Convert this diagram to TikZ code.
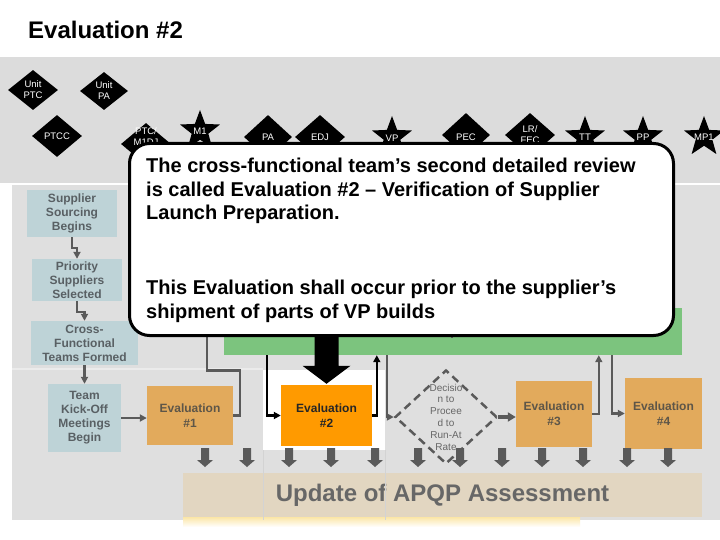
\documentclass[tikz,border=0pt]{standalone}
\usepackage{fontspec}
\setmainfont{Liberation Sans}
\usetikzlibrary{shapes.geometric,arrows.meta,calc}
\definecolor{bandgray}{HTML}{DCDCDC}
\definecolor{bodygray}{HTML}{DFDFDF}
\definecolor{bluebox}{HTML}{BED3D7}
\definecolor{tanbox}{HTML}{E2AA5C}
\definecolor{orangebox}{HTML}{FF9A00}
\definecolor{greenbar}{HTML}{7CC47E}
\definecolor{apqpfill}{HTML}{E2D6C1}
\definecolor{apqptext}{HTML}{676767}
\definecolor{conn}{HTML}{5A5A5A}
\definecolor{boxtext}{HTML}{596064}
\definecolor{evaltext}{HTML}{5E5648}
\definecolor{glow}{HTML}{FBE6A6}
\definecolor{laneline}{HTML}{D3D3D3}
\begin{document}
\begin{tikzpicture}[x=1pt,y=-1pt,
  bluestep/.style={rectangle, fill=bluebox, inner sep=0, align=center, text=boxtext, font=\bfseries\fontsize{12}{14}\selectfont},
  evalbox/.style={rectangle, fill=tanbox, inner sep=0, align=center, text=evaltext, font=\bfseries\fontsize{12}{15}\selectfont},
  milediamond/.style={diamond, fill=black, inner sep=0},
  milestar/.style={star, star points=5, star point ratio=2.4, fill=black, inner sep=0, minimum size=42pt},
  milelabel/.style={text=white, align=center, inner sep=0, font=\fontsize{9.5}{11}\selectfont},
  flow/.style={draw=conn, line width=2.5pt},
  flowarrow/.style={flow, -{Triangle[length=7pt,width=7pt]}},
  blackarrow/.style={draw=black, line width=2.5pt, -{Triangle[length=7pt,width=7pt]}},
  calltext/.style={anchor=north west, inner sep=0, align=left, font=\bfseries\fontsize{20}{23.5}\selectfont}
]
\useasboundingbox (0,0) rectangle (720,540);
\fill[white] (0,0) rectangle (720,540);
\fill[bandgray] (0,57) rectangle (720,183);
\fill[bodygray] (12,185) rectangle (720,520);
% lanes
\draw[white!92!black, line width=2pt] (12,369) -- (263,369);
\fill[white] (263,370) rectangle (385,450);

% title
\node[anchor=west, inner sep=0, font=\bfseries\fontsize{24}{28}\selectfont] (title) at (28,30) {Evaluation \#2};

% APQP bar
\shade[top color=glow, bottom color=white] (183,517) rectangle (580,527);
\node[rectangle, fill=apqpfill, minimum width=519pt, minimum height=44pt, inner sep=0,
      text=apqptext, font=\bfseries\fontsize{24}{28}\selectfont] (apqp) at (442.5,495) {Update of APQP Assessment};
\draw[laneline, line width=1pt] (263,450) -- (263,520);
\draw[laneline, line width=1pt] (385,450) -- (385,520);

% green bar
\node[rectangle, fill=greenbar, minimum width=458pt, minimum height=47pt, inner sep=0] (green) at (453,331.5) {};
\draw[conn, line width=1.5pt] (452,325) -- (452,338);

% left column
\node[bluestep, minimum width=90pt, minimum height=47pt] (sup) at (72,213.5) {Supplier\\Sourcing\\Begins};
\node[bluestep, minimum width=90pt, minimum height=42pt] (pri) at (77,280) {Priority\\Suppliers\\Selected};
\node[bluestep, minimum width=107pt, minimum height=44pt] (cft) at (84.5,343) {Cross-\\Functional\\Teams Formed};
\node[bluestep, minimum width=73pt, minimum height=68pt] (tko) at (84.5,418) {Team\\Kick-Off\\Meetings\\Begin};

% evaluations
\node[evalbox, minimum width=86pt, minimum height=59pt] (ev1) at (190,415.5) {Evaluation\\\#1};
\node[evalbox, fill=orangebox, text=black!85, minimum width=91pt, minimum height=61pt] (ev2) at (326.5,415.5) {Evaluation\\\#2};
\node[evalbox, minimum width=76pt, minimum height=66pt] (ev3) at (554,414) {Evaluation\\\#3};
\node[evalbox, minimum width=77pt, minimum height=71pt] (ev4) at (663.5,413.5) {Evaluation\\\#4};
\node[diamond, draw=conn, line width=2.5pt, dash pattern=on 8pt off 5pt, inner sep=0,
      minimum width=102pt, minimum height=94pt] (dec) at (446,417) {};
\node[inner sep=0, align=center, text=black!60, font=\fontsize{10}{11.8}\selectfont] (dectext) at (dec) {Decisio\\n to\\Procee\\d to\\Run-At\\Rate};

% connectors
\draw[flowarrow] (sup.south) -- ++(0,11) -| (pri.north);
\draw[flowarrow] (pri.south) -- ++(0,11) -| (cft.north);
\draw[flowarrow] (cft.south) -- (tko.north);
\draw[flowarrow] (tko.east) -- (tko.east -| ev1.west);
\draw[flow] (ev1.east) -- ++(7,0) -- ++(0,-45) -- ++(-33,0) |- (green.west);
\draw[blackarrow] ($(green.south west)+(43,0)$) |- (ev2.west);
\draw[blackarrow] (ev2.east) -| ($(green.south west)+(153,0)$);
\draw[flowarrow] ($(green.south west)+(163,0)$) |- (dec.west);
\draw[flow, line width=4pt, -{Triangle[length=8pt,width=9pt]}] (dec.east) -- (dec.east -| ev3.west);
\draw[flowarrow] (ev3.east) -| ($(green.south west)+(375,0)$);
\draw[flowarrow] ($(green.south west)+(388,0)$) |- (ev4.west);

% down arrows to APQP bar
\foreach \x in {205,247,289,331,375,418,460,502,542,583,627,668} {
  \fill[conn] (\x-4,448) -- (\x+4,448) -- (\x+4,460) -- (\x+8,460) -- (\x,467) -- (\x-8,460) -- (\x-4,460) -- cycle;
}

% milestones
\node[milediamond, minimum width=50pt, minimum height=40pt] (uptc) at (33,90) {};
\node[milelabel] at (uptc) {Unit\\PTC};
\node[milediamond, minimum width=48pt, minimum height=38pt] (upa) at (104,91) {};
\node[milelabel] at (upa) {Unit\\PA};
\node[milediamond, minimum width=50pt, minimum height=42pt] (ptcc) at (57,136) {};
\node[milelabel] at (ptcc) {PTCC};
\node[milediamond, minimum width=50pt, minimum height=42pt] (ptcm) at (146,144) {};
\node[milelabel, yshift=7pt] at (ptcm) {PTC/\\M1DJ};
\node[milestar] (m1) at (200,131) {};
\node[milelabel] at (m1) {M1};
\node[milediamond, minimum width=48pt, minimum height=44pt] (pa) at (268,137) {};
\node[milelabel] at (pa) {PA};
\node[milediamond, minimum width=50pt, minimum height=44pt] (edj) at (320,137) {};
\node[milelabel] at (edj) {EDJ};
\node[milestar] (vp) at (392,137) {};
\node[milelabel, yshift=-1pt] at (vp) {VP};
\node[milediamond, minimum width=48pt, minimum height=44pt] (pec) at (466,135) {};
\node[milelabel, yshift=-2pt] at (pec) {PEC};
\node[milediamond, minimum width=50pt, minimum height=44pt] (lr) at (530,135) {};
\node[milelabel] at (lr) {LR/\\FEC};
\node[milestar] (tt) at (585,137) {};
\node[milelabel] at (tt) {TT};
\node[milestar] (pp) at (643,137) {};
\node[milelabel] at (pp) {PP};
\node[milestar] (mp1) at (704,137) {};
\node[milelabel] at (mp1) {MP1};

% big black arrow from the callout to Evaluation #2
\fill[black, shift={(ev2.north)}] (0,-1) -- (24,-19) -- (12,-19) -- (12,-52) -- (-12,-52) -- (-12,-19) -- (-24,-19) -- cycle;

% callout
\node[draw=black, line width=3pt, rounded corners=20pt, fill=white, minimum width=544pt, minimum height=192pt,
      inner sep=0, anchor=north west] (callout) at (128,142) {};
\node[calltext] (ctA) at (146,158) {The cross-functional team’s second detailed review\\is called Evaluation \#2 – Verification of Supplier\\Launch Preparation.};
\node[calltext] (ctB) at (146,280) {This Evaluation shall occur prior to the supplier’s\\shipment of parts of VP builds};
\end{tikzpicture}
\end{document}
